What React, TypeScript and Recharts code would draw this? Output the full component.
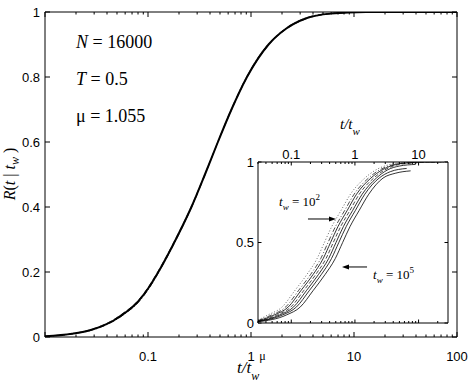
import React from 'react';
import { LineChart, Line, XAxis, YAxis, ReferenceLine } from 'recharts';

// main panel: R values shared by the overlapping scaled curves, x = t / tw^mu
const mainLevels = [0.002, 0.01, 0.02, 0.035, 0.05, 0.075, 0.1, 0.15, 0.2, 0.3, 0.4, 0.5, 0.6, 0.7, 0.8, 0.9, 0.95, 0.98, 0.995, 1, 1];
const mainSolid = [0.01, 0.0183, 0.0268, 0.0367, 0.0459, 0.0601, 0.0751, 0.1006, 0.126, 0.186, 0.264, 0.357, 0.477, 0.646, 0.914, 1.48, 2.22, 3.39, 5.94, 13, 100];
const mainDashed = [0.01, 0.0178, 0.026, 0.0355, 0.0445, 0.0585, 0.0735, 0.099, 0.124, 0.184, 0.262, 0.356, 0.478, 0.65, 0.92, 1.5, 2.26, 3.5, 6.2, 13.5, 100];
const mainDashDot = [0.01, 0.0188, 0.0276, 0.0378, 0.0472, 0.0618, 0.0772, 0.1025, 0.1275, 0.188, 0.266, 0.359, 0.476, 0.642, 0.905, 1.46, 2.18, 3.3, 5.7, 12.5, 100];

// inset: unscaled curves, [t/tw, R], from tw = 10^2 (left) to tw = 10^5 (right)
const insetTw2 = [[0.03, 0.018], [0.043, 0.05], [0.072, 0.1], [0.113, 0.2], [0.175, 0.3], [0.254, 0.4], [0.331, 0.5], [0.434, 0.6], [0.607, 0.7], [0.851, 0.8], [1.43, 0.9], [2.12, 0.95], [3.2, 0.98], [5.5, 0.995], [11, 1], [25, 1]];
const insetA = [[0.03, 0.015], [0.049, 0.05], [0.082, 0.1], [0.129, 0.2], [0.2, 0.3], [0.29, 0.4], [0.378, 0.5], [0.496, 0.6], [0.693, 0.7], [0.971, 0.8], [1.63, 0.9], [2.42, 0.95], [3.7, 0.98], [6.3, 0.995], [12.6, 1], [25, 1]];
const insetB = [[0.03, 0.013], [0.054, 0.05], [0.09, 0.1], [0.141, 0.2], [0.219, 0.3], [0.317, 0.4], [0.414, 0.5], [0.543, 0.6], [0.759, 0.7], [1.06, 0.8], [1.78, 0.9], [2.65, 0.95], [4.0, 0.98], [6.9, 0.995], [14, 1], [22, 1]];
const insetC = [[0.03, 0.011], [0.06, 0.05], [0.099, 0.1], [0.156, 0.2], [0.241, 0.3], [0.351, 0.4], [0.457, 0.5], [0.599, 0.6], [0.838, 0.7], [1.17, 0.8], [1.97, 0.9], [2.92, 0.95], [4.4, 0.98], [7.6, 0.993], [18, 1]];
const insetD = [[0.03, 0.01], [0.066, 0.05], [0.109, 0.1], [0.172, 0.2], [0.266, 0.3], [0.386, 0.4], [0.504, 0.5], [0.661, 0.6], [0.924, 0.7], [1.3, 0.8], [2.17, 0.9], [3.22, 0.95], [5, 0.975], [9, 0.985]];
const insetE = [[0.03, 0.009], [0.073, 0.05], [0.121, 0.1], [0.191, 0.2], [0.295, 0.3], [0.428, 0.4], [0.558, 0.5], [0.732, 0.6], [1.02, 0.7], [1.43, 0.8], [2.4, 0.9], [3.6, 0.94], [6.5, 0.96]];
const insetTw5 = [[0.03, 0.008], [0.084, 0.05], [0.139, 0.1], [0.219, 0.2], [0.338, 0.3], [0.491, 0.4], [0.641, 0.5], [0.84, 0.6], [1.17, 0.7], [1.65, 0.8], [2.76, 0.9], [4.3, 0.93], [7.5, 0.945]];

// ticks
const mainXTicks = [0.01, 0.02, 0.03, 0.04, 0.05, 0.06, 0.07, 0.08, 0.09, 0.1, 0.2, 0.3, 0.4, 0.5, 0.6, 0.7, 0.8, 0.9, 1, 2, 3, 4, 5, 6, 7, 8, 9, 10, 20, 30, 40, 50, 60, 70, 80, 90, 100];
const mainXLabels = ['0.1', '1', '10', '100'];
const mainYTicks = [0, 0.2, 0.4, 0.6, 0.8, 1];
const mainYLabels = ['0', '0.2', '0.4', '0.6', '0.8', '1'];
const insetXTicks = [0.03, 0.04, 0.05, 0.06, 0.07, 0.08, 0.09, 0.1, 0.2, 0.3, 0.4, 0.5, 0.6, 0.7, 0.8, 0.9, 1, 2, 3, 4, 5, 6, 7, 8, 9, 10, 20];
const insetXLabels = ['0.1', '1', '10'];
const insetYTicks = [0, 0.5, 1];
const insetYLabels = ['0', '0.5', '1'];

const toPoints = (xs: number[], rs: number[]) => xs.map((x, i) => ({ x, r: rs[i] }));
const toPairs = (p: number[][]) => p.map(([x, r]) => ({ x, r }));

const sans = '"Liberation Sans", Arial, sans-serif';
const serif = '"Liberation Serif", "Times New Roman", serif';

const isDecade = (v: number) => Math.abs(Math.log10(v) - Math.round(Math.log10(v))) < 1e-9;
const always = () => true;

type Side = 'bottom' | 'top' | 'left' | 'right';

// inward MATLAB-style ticks, short ones for the minor log ticks
function axisTick(side: Side, major: number, minor: number, labels: string[], isMajor: (v: number) => boolean, off: number) {
  return (props: any) => {
    const { x, y, payload } = props;
    const v = payload.value;
    const len = isMajor(v) ? major : minor;
    const txt = labels.includes(String(v)) ? String(v) : '';
    const common = { style: { fontFamily: sans, fontSize: 13 }, fill: '#000' };
    if (side === 'bottom')
      return (
        <g>
          <line x1={x} y1={y} x2={x} y2={y - len} stroke="#000" />
          {txt && <text x={x} y={y + off} textAnchor="middle" {...common}>{txt}</text>}
        </g>
      );
    if (side === 'top')
      return (
        <g>
          <line x1={x} y1={y} x2={x} y2={y + len} stroke="#000" />
          {txt && <text x={x} y={y - off} textAnchor="middle" {...common}>{txt}</text>}
        </g>
      );
    if (side === 'left')
      return (
        <g>
          <line x1={x} y1={y} x2={x + len} y2={y} stroke="#000" />
          {txt && <text x={x - off} y={y + 4.5} textAnchor="end" {...common}>{txt}</text>}
        </g>
      );
    return <line x1={x} y1={y} x2={x - len} y2={y} stroke="#000" />;
  };
}

const arrowShape = (p: any) => {
  const { x1, y1, x2, y2 } = p;
  const dir = Math.sign(x2 - x1);
  return (
    <g>
      <line x1={x1} y1={y1} x2={x2 - dir * 5} y2={y2} stroke="#000" strokeWidth={1} />
      <polygon points={`${x2},${y2} ${x2 - dir * 7},${y2 - 2.5} ${x2 - dir * 7},${y2 + 2.5}`} fill="#000" />
    </g>
  );
};

const axisCommon = {
  type: 'number' as const,
  allowDataOverflow: true,
  interval: 0 as const,
  tickSize: 0,
  tickMargin: 0,
  tickLine: false,
  axisLine: { stroke: '#000' },
};

export default function App() {
  return (
    <div style={{ position: 'absolute', left: 0, top: 0, width: 473, height: 382, background: '#fff' }}>
      <div style={{ position: 'absolute', left: 0, top: 0 }}>
        <LineChart width={473} height={382} margin={{ top: 11, right: 15, bottom: 0, left: 0 }}>
          <XAxis xAxisId="b" dataKey="x" scale="log" domain={[0.01, 100]} ticks={mainXTicks} height={45}
            tick={axisTick('bottom', 5, 2.5, mainXLabels, isDecade, 24)} {...axisCommon} />
          <XAxis xAxisId="t" orientation="top" dataKey="x" scale="log" domain={[0.01, 100]} ticks={mainXTicks} height={1}
            tick={axisTick('top', 5, 2.5, [], isDecade, 0)} {...axisCommon} />
          <YAxis yAxisId="l" domain={[0, 1]} ticks={mainYTicks} width={45}
            tick={axisTick('left', 5, 5, mainYLabels, always, 5)} {...axisCommon} />
          <YAxis yAxisId="r" orientation="right" domain={[0, 1]} ticks={mainYTicks} width={1}
            tick={axisTick('right', 5, 5, [], always, 0)} {...axisCommon} />
          <Line xAxisId="t" yAxisId="r" data={toPoints(mainDashed, mainLevels)} dataKey="r" type="monotone"
            stroke="#444" strokeWidth={1} strokeDasharray="5 3" dot={false} isAnimationActive={false} />
          <Line xAxisId="b" yAxisId="l" data={toPoints(mainDashDot, mainLevels)} dataKey="r" type="monotone"
            stroke="#222" strokeWidth={1} strokeDasharray="6 2 1 2" dot={false} isAnimationActive={false} />
          <Line xAxisId="b" yAxisId="l" data={toPoints(mainSolid, mainLevels)} dataKey="r" type="monotone"
            stroke="#000" strokeWidth={2} dot={false} isAnimationActive={false} />
        </LineChart>
      </div>

      <div style={{ position: 'absolute', left: 220, top: 115 }}>
        <LineChart width={240} height={225} margin={{ top: 46, right: 11, bottom: 0, left: 0 }}>
          <XAxis xAxisId="b" dataKey="x" scale="log" domain={[0.03, 29]} ticks={insetXTicks} height={17}
            tick={axisTick('bottom', 3.5, 2, [], isDecade, 0)} {...axisCommon} />
          <XAxis xAxisId="t" orientation="top" dataKey="x" scale="log" domain={[0.03, 29]} ticks={insetXTicks} height={1}
            tick={axisTick('top', 3.5, 2, insetXLabels, isDecade, 3)} {...axisCommon} />
          <YAxis yAxisId="l" domain={[0, 1]} ticks={insetYTicks} width={38}
            tick={axisTick('left', 3.5, 3.5, insetYLabels, always, 4)} {...axisCommon} />
          <YAxis yAxisId="r" orientation="right" domain={[0, 1]} ticks={insetYTicks} width={1}
            tick={axisTick('right', 3.5, 3.5, [], always, 0)} {...axisCommon} />
          <Line xAxisId="t" yAxisId="r" data={toPairs(insetTw2)} dataKey="r" type="monotone"
            stroke="#555" strokeWidth={0.9} strokeDasharray="1 2" dot={false} isAnimationActive={false} />
          <Line xAxisId="b" yAxisId="l" data={toPairs(insetA)} dataKey="r" type="monotone"
            stroke="#222" strokeWidth={0.8} strokeDasharray="5 2 1 2" dot={false} isAnimationActive={false} />
          <Line xAxisId="b" yAxisId="l" data={toPairs(insetB)} dataKey="r" type="monotone"
            stroke="#000" strokeWidth={0.8} dot={false} isAnimationActive={false} />
          <Line xAxisId="b" yAxisId="l" data={toPairs(insetC)} dataKey="r" type="monotone"
            stroke="#222" strokeWidth={0.8} strokeDasharray="4 2" dot={false} isAnimationActive={false} />
          <Line xAxisId="b" yAxisId="l" data={toPairs(insetD)} dataKey="r" type="monotone"
            stroke="#000" strokeWidth={0.8} dot={false} isAnimationActive={false} />
          <Line xAxisId="b" yAxisId="l" data={toPairs(insetE)} dataKey="r" type="monotone"
            stroke="#000" strokeWidth={0.8} dot={false} isAnimationActive={false} />
          <Line xAxisId="b" yAxisId="l" data={toPairs(insetTw5)} dataKey="r" type="monotone"
            stroke="#000" strokeWidth={0.8} dot={false} isAnimationActive={false} />
          <ReferenceLine xAxisId="b" yAxisId="l" segment={[{ x: 0.183, y: 0.646 }, { x: 0.504, y: 0.646 }]}
            shape={arrowShape} />
          <ReferenceLine xAxisId="b" yAxisId="l" segment={[{ x: 1.55, y: 0.348 }, { x: 0.626, y: 0.348 }]}
            shape={arrowShape} />
        </LineChart>
      </div>

      <svg width={473} height={382} style={{ position: 'absolute', left: 0, top: 0, pointerEvents: 'none', fontFamily: serif }}>
        <g fill="#000">
          <text x={76} y={48} fontSize={18}><tspan fontStyle="italic">N</tspan> = 16000</text>
          <text x={76} y={85} fontSize={18}><tspan fontStyle="italic">T</tspan> = 0.5</text>
          <text x={76} y={122} fontSize={18}>μ = 1.055</text>

          <text transform="translate(15,174) rotate(-90)" textAnchor="middle" fontSize={16}>
            <tspan fontStyle="italic">R</tspan>(<tspan fontStyle="italic">t</tspan> | <tspan fontStyle="italic">t</tspan>
            <tspan fontStyle="italic" fontSize={12} dy={4}>w</tspan><tspan dy={-4}> )</tspan>
          </text>

          <text x={237} y={373} fontSize={17} fontStyle="italic">
            t/t<tspan fontSize={12} dy={6.5}>w</tspan><tspan fontSize={12} fontStyle="normal" dy={-19.5}>μ</tspan>
          </text>

          <text x={340} y={129} fontSize={15} fontStyle="italic">
            t/t<tspan fontSize={11} dy={6}>w</tspan>
          </text>

          <text x={279} y={206} fontSize={13}>
            <tspan fontStyle="italic">t</tspan><tspan fontStyle="italic" fontSize={9} dy={4}>w</tspan>
            <tspan dy={-4}> = 10</tspan><tspan fontSize={9} dy={-6}>2</tspan>
          </text>
          <text x={373} y={279} fontSize={13}>
            <tspan fontStyle="italic">t</tspan><tspan fontStyle="italic" fontSize={9} dy={4}>w</tspan>
            <tspan dy={-4}> = 10</tspan><tspan fontSize={9} dy={-6}>5</tspan>
          </text>
        </g>
      </svg>
    </div>
  );
}
